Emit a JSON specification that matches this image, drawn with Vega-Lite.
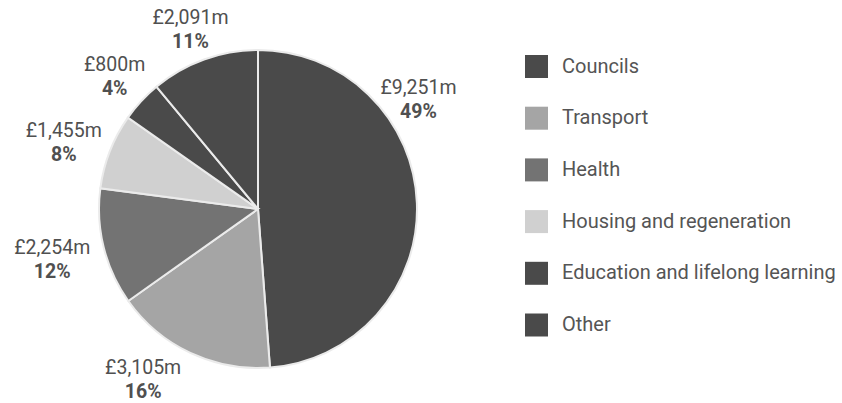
{
  "$schema": "https://vega.github.io/schema/vega-lite/v6.json",
  "width": 516,
  "height": 388,
  "autosize": {"type": "none"},
  "padding": {"left": 0, "top": 15, "right": 326, "bottom": 0},
  "config": {"view": {"stroke": null}, "font": "Roboto", "background": "white"},
  "data": {
    "values": [
      {"cat": "Councils", "value": 9251, "amount": "£9,251m", "pct": "49%"},
      {"cat": "Transport", "value": 3105, "amount": "£3,105m", "pct": "16%"},
      {"cat": "Health", "value": 2254, "amount": "£2,254m", "pct": "12%"},
      {"cat": "Housing and regeneration", "value": 1455, "amount": "£1,455m", "pct": "8%"},
      {"cat": "Education and lifelong learning", "value": 800, "amount": "£800m", "pct": "4%"},
      {"cat": "Other", "value": 2091, "amount": "£2,091m", "pct": "11%"}
    ]
  },
  "transform": [{"window": [{"op": "row_number", "as": "idx"}]}],
  "layer": [
    {
      "mark": {"type": "arc", "radius": 159, "stroke": "#ebebeb", "strokeWidth": 2},
      "encoding": {
        "theta": {"field": "value", "type": "quantitative", "stack": true},
        "order": {"field": "idx", "type": "quantitative"},
        "color": {
          "field": "cat",
          "type": "nominal",
          "sort": ["Councils", "Transport", "Health", "Housing and regeneration", "Education and lifelong learning", "Other"],
          "scale": {
            "domain": ["Councils", "Transport", "Health", "Housing and regeneration", "Education and lifelong learning", "Other"],
            "range": ["#4a4a4a", "#a5a5a5", "#737373", "#d0d0d0", "#4a4a4a", "#4a4a4a"]
          },
          "legend": {
            "orient": "none",
            "legendX": 525,
            "legendY": 40,
            "title": null,
            "symbolType": "square",
            "symbolSize": 529,
            "symbolStrokeWidth": 0,
            "symbolOpacity": 1,
            "rowPadding": 28.7,
            "labelFontSize": 20,
            "labelColor": "#555555",
            "labelOffset": 14,
            "labelLimit": 400,
            "labelFont": "Roboto"
          }
        }
      }
    },
    {
      "mark": {
        "type": "text",
        "fontSize": 19.5,
        "fill": "#505050",
        "baseline": "middle",
        "align": "center",
        "dy": -12,
        "radius": {"expr": "datum.cat == 'Councils' ? 194 : datum.cat == 'Transport' ? 206 : datum.cat == 'Health' ? 212 : datum.cat == 'Housing and regeneration' ? 205 : datum.cat == 'Education and lifelong learning' ? 195 : 191"},
        "thetaOffset": {"expr": "datum.cat == 'Councils' ? -0.559 : datum.cat == 'Transport' ? 0.152 : datum.cat == 'Housing and regeneration' ? -0.045 : datum.cat == 'Other' ? -0.015 : 0"}
      },
      "encoding": {
        "theta": {"field": "value", "type": "quantitative", "stack": true},
        "order": {"field": "idx", "type": "quantitative"},
        "text": {"field": "amount", "type": "nominal"}
      }
    },
    {
      "mark": {
        "type": "text",
        "fontSize": 19.5,
        "fontWeight": "bold",
        "fill": "#505050",
        "baseline": "middle",
        "align": "center",
        "dy": 12,
        "radius": {"expr": "datum.cat == 'Councils' ? 194 : datum.cat == 'Transport' ? 206 : datum.cat == 'Health' ? 212 : datum.cat == 'Housing and regeneration' ? 205 : datum.cat == 'Education and lifelong learning' ? 195 : 191"},
        "thetaOffset": {"expr": "datum.cat == 'Councils' ? -0.559 : datum.cat == 'Transport' ? 0.152 : datum.cat == 'Housing and regeneration' ? -0.045 : datum.cat == 'Other' ? -0.015 : 0"}
      },
      "encoding": {
        "theta": {"field": "value", "type": "quantitative", "stack": true},
        "order": {"field": "idx", "type": "quantitative"},
        "text": {"field": "pct", "type": "nominal"}
      }
    }
  ]
}
